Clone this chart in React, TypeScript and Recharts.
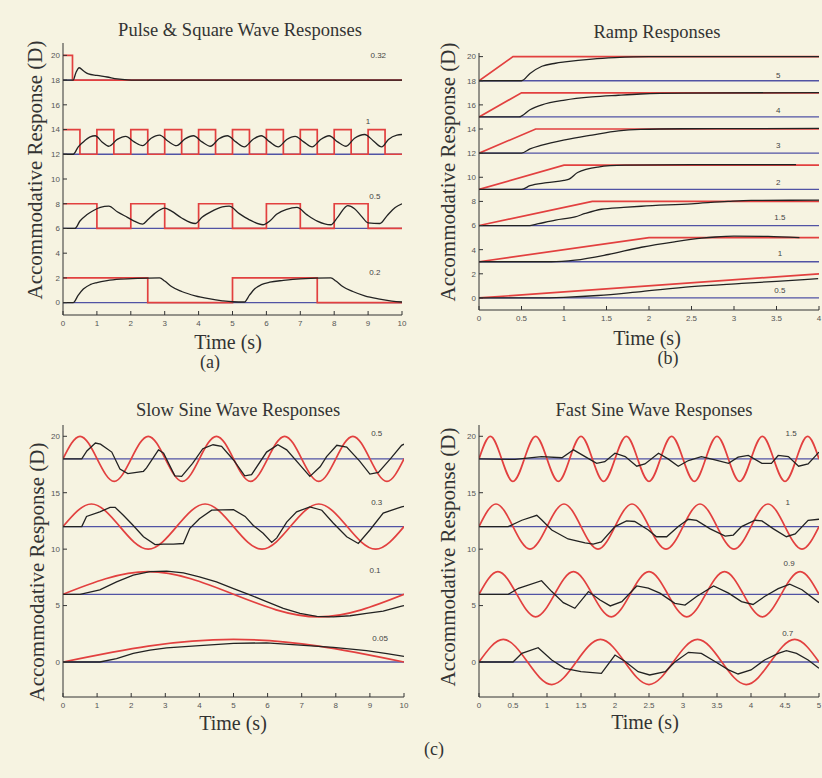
import React from 'react';
import { LineChart, Line, XAxis, YAxis, ReferenceDot } from 'recharts';

type P = [number, number];

// ---------------- Panel (a): Pulse & Square Wave ----------------
const aLabels = ['0.32', '1', '0.5', '0.2'];
const aBaselines = [18, 12, 6, 0];
const aStim032: P[] = [[0, 20], [0.28, 18], [10, 18]];
const aResp032: P[] = [[0, 18], [0.3, 18], [0.38, 18.6], [0.48, 19.0], [0.6, 18.75], [0.75, 18.5], [1.0, 18.38], [1.3, 18.25], [1.6, 18.1], [1.9, 18.02], [2.1, 18], [10, 18]];
const aStim1: P[] = [[0, 14], [0.5, 12], [1, 14], [1.5, 12], [2, 14], [2.5, 12], [3, 14], [3.5, 12], [4, 14], [4.5, 12], [5, 14], [5.5, 12], [6, 14], [6.5, 12], [7, 14], [7.5, 12], [8, 14], [8.5, 12], [9, 14], [9.5, 12], [10, 12]];
const aResp1: P[] = [[0, 12], [0.3, 12], [0.45, 12.6], [0.6, 13.0], [0.8, 13.4], [0.95, 13.5], [1.15, 13.0], [1.35, 12.65], [1.6, 13.2], [1.85, 13.45], [2.1, 13.0], [2.35, 12.7], [2.6, 13.3], [2.85, 13.55], [3.1, 13.05], [3.35, 12.7], [3.6, 13.25], [3.85, 13.5], [4.1, 13.0], [4.35, 12.65], [4.6, 13.25], [4.85, 13.5], [5.1, 13.0], [5.35, 12.6], [5.6, 13.2], [5.85, 13.5], [6.1, 13.0], [6.35, 12.6], [6.6, 13.2], [6.85, 13.45], [7.1, 13.0], [7.35, 12.6], [7.6, 13.2], [7.85, 13.5], [8.1, 13.0], [8.35, 12.65], [8.6, 13.3], [8.9, 13.6], [9.15, 13.1], [9.4, 12.6], [9.6, 13.2], [9.85, 13.55], [10, 13.6]];
const aStim05: P[] = [[0, 8], [1, 6], [2, 8], [3, 6], [4, 8], [5, 6], [6, 8], [7, 6], [8, 8], [9, 6], [10, 6]];
const aResp05: P[] = [[0, 6], [0.35, 6], [0.5, 6.6], [0.7, 7.1], [0.9, 7.45], [1.1, 7.7], [1.35, 7.8], [1.6, 7.35], [1.9, 6.9], [2.1, 6.6], [2.35, 6.35], [2.5, 6.7], [2.7, 7.2], [3.0, 7.65], [3.2, 7.4], [3.5, 6.85], [3.9, 6.4], [4.1, 6.9], [4.4, 7.4], [4.7, 7.75], [4.9, 7.8], [5.2, 7.2], [5.5, 6.7], [5.9, 6.3], [6.1, 6.6], [6.3, 7.15], [6.6, 7.55], [6.9, 7.7], [7.2, 7.1], [7.5, 6.6], [7.9, 6.3], [8.1, 6.9], [8.4, 7.85], [8.6, 7.6], [8.8, 7.0], [9.0, 6.45], [9.35, 6.4], [9.55, 7.0], [9.8, 7.7], [10, 8.0]];
const aStim02: P[] = [[0, 2], [2.5, 0], [5, 2], [7.5, 0], [10, 0]];
const aResp02: P[] = [[0, 0], [0.3, 0], [0.45, 0.6], [0.6, 1.1], [0.8, 1.45], [1.0, 1.62], [1.3, 1.78], [1.7, 1.9], [2.2, 1.97], [2.85, 2.0], [3.0, 1.75], [3.2, 1.3], [3.5, 0.9], [3.9, 0.55], [4.3, 0.32], [4.7, 0.15], [5.0, 0.07], [5.35, 0.05], [5.5, 0.6], [5.65, 1.1], [5.85, 1.45], [6.1, 1.65], [6.5, 1.8], [7.0, 1.93], [7.9, 2.0], [8.05, 1.75], [8.25, 1.3], [8.55, 0.9], [8.9, 0.55], [9.3, 0.3], [9.7, 0.12], [10, 0.05]];
const aXTicks = [0, 1, 2, 3, 4, 5, 6, 7, 8, 9, 10];
const aYTicks = [0, 2, 4, 6, 8, 10, 12, 14, 16, 18, 20];

// ---------------- Panel (b): Ramp ----------------
const bLabels = ['5', '4', '3', '2', '1.5', '1', '0.5'];
const bBaselines = [18, 15, 12, 9, 6, 3, 0];
const bStim5: P[] = [[0, 18], [0.4, 20], [4, 20]];
const bStim4: P[] = [[0, 15], [0.5, 17], [4, 17]];
const bStim3: P[] = [[0, 12], [0.667, 14], [4, 14]];
const bStim2: P[] = [[0, 9], [1, 11], [4, 11]];
const bStim15: P[] = [[0, 6], [1.333, 8], [4, 8]];
const bStim1: P[] = [[0, 3], [2, 5], [4, 5]];
const bStim05: P[] = [[0, 0], [4, 2]];
const bResp5: P[] = [[0, 18], [0.5, 18], [0.6, 18.6], [0.74, 19.2], [0.9, 19.45], [1.01, 19.56], [1.33, 19.8], [1.6, 19.92], [2.0, 20], [4, 20]];
const bResp4: P[] = [[0, 15], [0.47, 15], [0.6, 15.6], [0.74, 16.0], [1.01, 16.4], [1.33, 16.66], [1.64, 16.8], [1.9, 16.9], [2.4, 16.98], [4, 17.02]];
const bResp3: P[] = [[0, 12], [0.5, 12], [0.6, 12.35], [0.74, 12.66], [1.01, 13.1], [1.33, 13.5], [1.64, 13.85], [1.9, 13.97], [2.4, 14.02], [4, 14.05]];
const bResp2: P[] = [[0, 9], [0.5, 9], [0.6, 9.3], [0.8, 9.55], [1.0, 9.75], [1.06, 9.85], [1.16, 10.4], [1.4, 10.85], [1.71, 11.0], [2.5, 11.05], [3.73, 11.05]];
const bResp15: P[] = [[0, 6], [0.6, 6], [0.7, 6.15], [0.9, 6.45], [1.13, 6.72], [1.25, 7.0], [1.44, 7.35], [1.7, 7.5], [1.91, 7.6], [2.5, 7.8], [2.93, 8.0], [3.2, 8.08], [4, 8.1]];
const bResp1: P[] = [[0, 3], [0.85, 3], [1.13, 3.13], [1.52, 3.6], [1.91, 4.2], [2.3, 4.65], [2.62, 4.95], [2.78, 5.05], [3.0, 5.12], [3.4, 5.1], [3.77, 5.0]];
const bResp05: P[] = [[0, 0], [0.7, 0], [1.0, 0.05], [1.4, 0.2], [1.91, 0.53], [2.5, 0.93], [3.09, 1.2], [3.5, 1.38], [3.99, 1.6]];
const bXTicks = [0, 0.5, 1, 1.5, 2, 2.5, 3, 3.5, 4];
const bYTicks = [0, 2, 4, 6, 8, 10, 12, 14, 16, 18, 20];

// ---------------- Panel (c) left: Slow Sine ----------------
const cLLabels = ['0.5', '0.3', '0.1', '0.05'];
const cLBaselines = [18, 12, 6, 0];
const cLStim05: P[] = [[0, 18], [0.5, 20], [1, 18], [1.5, 16], [2, 18], [2.5, 20], [3, 18], [3.5, 16], [4, 18], [4.5, 20], [5, 18], [5.5, 16], [6, 18], [6.5, 20], [7, 18], [7.5, 16], [8, 18], [8.5, 20], [9, 18], [9.5, 16], [10, 18]];
const cLStim03: P[] = [[0, 12], [0.833, 14], [1.667, 12], [2.5, 10], [3.333, 12], [4.167, 14], [5, 12], [5.833, 10], [6.667, 12], [7.5, 14], [8.333, 12], [9.167, 10], [10, 12]];
const cLStim01: P[] = [[0, 6], [2.5, 8], [5, 6], [7.5, 4], [10, 6]];
const cLStim005: P[] = [[0, 0], [2.5, 1.41], [5, 2], [7.5, 1.41], [10, 0]];
const cLResp05: P[] = [[0, 18], [0.55, 18], [0.7, 18.7], [0.95, 19.4], [1.1, 19.3], [1.43, 18.6], [1.67, 17.1], [1.9, 16.7], [2.36, 16.9], [2.45, 17.2], [2.8, 18.8], [2.95, 18.5], [3.28, 16.5], [3.48, 16.45], [3.8, 17.6], [4.1, 18.9], [4.4, 19.25], [4.65, 19.1], [5.0, 17.9], [5.33, 16.5], [5.53, 16.6], [5.97, 18.6], [6.3, 19.25], [6.56, 18.8], [7.24, 16.45], [7.54, 17.3], [7.73, 18.2], [8.03, 19.2], [8.32, 19.05], [8.7, 17.8], [9.0, 16.65], [9.25, 16.8], [9.6, 18.0], [9.93, 19.2], [10, 19.3]];
const cLResp03: P[] = [[0, 12], [0.55, 12], [0.69, 12.9], [1.08, 13.3], [1.38, 13.7], [1.53, 13.7], [1.77, 13.0], [2.06, 12.1], [2.36, 11.1], [2.7, 10.4], [2.94, 10.45], [3.24, 10.45], [3.53, 10.5], [3.72, 11.85], [4.0, 12.7], [4.36, 13.45], [5.0, 13.5], [5.34, 12.9], [5.58, 12.1], [5.87, 11.4], [6.12, 10.6], [6.27, 11.0], [6.56, 12.4], [6.85, 13.3], [7.24, 13.75], [7.59, 13.45], [7.93, 12.3], [8.32, 11.1], [8.66, 10.5], [9.0, 11.7], [9.39, 13.2], [9.93, 13.75], [10, 13.8]];
const cLResp01: P[] = [[0, 6], [0.5, 6], [1.08, 6.4], [1.57, 7.1], [2.06, 7.7], [2.55, 8.0], [3.04, 8.05], [3.53, 7.9], [4.0, 7.55], [4.5, 7.1], [5.0, 6.5], [5.48, 5.95], [5.97, 5.35], [6.46, 4.75], [6.95, 4.3], [7.44, 4.05], [7.93, 4.0], [8.42, 4.1], [8.9, 4.3], [9.39, 4.5], [9.93, 4.95], [10, 5.0]];
const cLResp005: P[] = [[0, 0], [1.08, 0], [1.57, 0.3], [2.06, 0.77], [2.55, 1.06], [3.04, 1.25], [4.0, 1.45], [5.0, 1.65], [5.97, 1.7], [6.95, 1.5], [7.93, 1.3], [8.9, 1.0], [9.5, 0.75], [10, 0.5]];
const cLXTicks = [0, 1, 2, 3, 4, 5, 6, 7, 8, 9, 10];
const cYTicks = [0, 5, 10, 15, 20];

// ---------------- Panel (c) right: Fast Sine ----------------
const cRLabels = ['1.5', '1', '0.9', '0.7'];
const cRBaselines = [18, 12, 6, 0];
const cRStim15: P[] = [[0, 18], [0.167, 20], [0.333, 18], [0.5, 16], [0.667, 18], [0.833, 20], [1, 18], [1.167, 16], [1.333, 18], [1.5, 20], [1.667, 18], [1.833, 16], [2, 18], [2.167, 20], [2.333, 18], [2.5, 16], [2.667, 18], [2.833, 20], [3, 18], [3.167, 16], [3.333, 18], [3.5, 20], [3.667, 18], [3.833, 16], [4, 18], [4.167, 20], [4.333, 18], [4.5, 16], [4.667, 18], [4.833, 20], [5, 18]];
const cRStim1: P[] = [[0, 12], [0.25, 14], [0.5, 12], [0.75, 10], [1, 12], [1.25, 14], [1.5, 12], [1.75, 10], [2, 12], [2.25, 14], [2.5, 12], [2.75, 10], [3, 12], [3.25, 14], [3.5, 12], [3.75, 10], [4, 12], [4.25, 14], [4.5, 12], [4.75, 10], [5, 12]];
const cRStim09: P[] = [[0, 6], [0.278, 8], [0.556, 6], [0.833, 4], [1.111, 6], [1.389, 8], [1.667, 6], [1.944, 4], [2.222, 6], [2.5, 8], [2.778, 6], [3.056, 4], [3.333, 6], [3.611, 8], [3.889, 6], [4.167, 4], [4.444, 6], [4.722, 8], [5, 6]];
const cRStim07: P[] = [[0, 0], [0.357, 2], [0.714, 0], [1.071, -2], [1.429, 0], [1.786, 2], [2.143, 0], [2.5, -2], [2.857, 0], [3.214, 2], [3.571, 0], [3.929, -2], [4.286, 0], [4.643, 2], [5, 0]];
const cRResp15: P[] = [[0, 18], [0.53, 17.95], [0.92, 18.2], [1.22, 18.1], [1.39, 18.8], [1.56, 18.2], [1.73, 17.6], [1.85, 17.75], [2.0, 18.5], [2.15, 18.2], [2.32, 17.35], [2.44, 17.55], [2.64, 18.5], [2.78, 18.0], [2.93, 17.35], [3.08, 17.85], [3.27, 18.2], [3.47, 17.9], [3.67, 17.6], [3.81, 18.15], [3.96, 18.3], [4.16, 17.6], [4.3, 17.6], [4.4, 18.3], [4.55, 18.2], [4.7, 17.35], [4.84, 17.55], [5, 18.6]];
const cRResp1: P[] = [[0, 12], [0.43, 12], [0.63, 12.56], [0.85, 13.0], [0.92, 12.6], [1.07, 11.7], [1.31, 10.9], [1.56, 10.55], [1.68, 10.45], [1.8, 10.65], [2.0, 12.0], [2.17, 12.5], [2.29, 12.45], [2.49, 11.7], [2.61, 11.1], [2.76, 11.1], [2.93, 12.0], [3.08, 12.65], [3.2, 12.55], [3.4, 11.8], [3.62, 11.15], [3.74, 11.25], [3.86, 12.0], [4.06, 12.56], [4.16, 12.5], [4.33, 11.8], [4.52, 11.1], [4.65, 11.35], [4.84, 12.56], [5, 12.65]];
const cRResp09: P[] = [[0, 6], [0.43, 6], [0.58, 6.53], [0.92, 7.2], [1.07, 6.24], [1.24, 5.26], [1.41, 4.76], [1.61, 6.24], [1.78, 5.5], [1.93, 4.97], [2.1, 5.35], [2.32, 6.74], [2.49, 6.55], [2.66, 6.1], [2.88, 5.2], [3.03, 5.05], [3.2, 5.8], [3.45, 6.74], [3.67, 6.1], [3.86, 5.35], [4.03, 5.1], [4.2, 5.8], [4.4, 6.5], [4.57, 6.9], [4.75, 6.4], [5, 5.26]];
const cRResp07: P[] = [[0, 0], [0.5, 0], [0.63, 0.77], [0.87, 1.27], [1.07, 0.18], [1.26, -0.56], [1.5, -0.86], [1.8, -1.0], [2.0, 0.62], [2.15, 0.05], [2.34, -0.86], [2.51, -1.15], [2.74, -0.86], [2.88, 0], [3.08, 0.86], [3.27, 0.77], [3.47, 0.05], [3.67, -0.7], [3.81, -1.06], [4.0, -0.7], [4.2, 0.18], [4.4, 0.77], [4.52, 1.0], [4.67, 0.77], [4.84, 0.18], [5, -0.56]];
const cRXTicks = [0, 0.5, 1, 1.5, 2, 2.5, 3, 3.5, 4, 4.5, 5];

// ---------------- rendering ----------------
const pts = (a: P[]) => a.map(([t, v]) => ({ t, v }));

const RED = '#e2403f';
const BLUE = '#5153a4';
const BLACK = '#222222';
const SERIF = '"Liberation Serif", "Times New Roman", serif';
const SANS = '"Liberation Sans", Arial, sans-serif';

interface Trial {
  label: string;
  base: number;
  stim: P[];
  resp: P[];
  lx: number;
  ly: number;
}

interface PanelProps {
  left: number;
  top: number;
  width: number;
  height: number;
  margin: { top: number; left: number; right: number; bottom: number };
  xMax: number;
  xTicks: number[];
  yDomain: [number, number];
  yTicks: number[];
  trials: Trial[];
  stimCurve: 'stepAfter' | 'linear' | 'natural';
  respCurve: 'monotone' | 'linear';
}

function Panel(p: PanelProps) {
  const tickStyle = { fontSize: 8, fill: '#555', fontFamily: SANS };
  return (
    <div style={{ position: 'absolute', left: p.left, top: p.top }}>
      <LineChart width={p.width} height={p.height} margin={p.margin}>
        <XAxis
          dataKey="t"
          type="number"
          domain={[0, p.xMax]}
          ticks={p.xTicks}
          interval={0}
          allowDataOverflow
          height={20}
          tickSize={-4}
          tickMargin={9}
          stroke="#333"
          tick={tickStyle}
        />
        <XAxis
          xAxisId="top"
          orientation="top"
          type="number"
          domain={[0, p.xMax]}
          height={0}
          tick={false}
          tickLine={false}
          stroke="#333"
        />
        <YAxis
          type="number"
          domain={p.yDomain}
          ticks={p.yTicks}
          interval={0}
          allowDataOverflow
          width={30}
          tickSize={-4}
          tickMargin={7}
          stroke="#333"
          tick={tickStyle}
        />
        <YAxis
          yAxisId="r"
          orientation="right"
          type="number"
          domain={[0, 1]}
          width={0}
          tick={false}
          tickLine={false}
          stroke="#333"
        />
        {p.trials.map((tr) => (
          <Line
            key={'b' + tr.label}
            data={pts([[0, tr.base], [p.xMax, tr.base]])}
            dataKey="v"
            type="linear"
            stroke={BLUE}
            strokeWidth={1.3}
            dot={false}
            isAnimationActive={false}
          />
        ))}
        {p.trials.map((tr) => (
          <Line
            key={'s' + tr.label}
            data={pts(tr.stim)}
            dataKey="v"
            type={p.stimCurve}
            stroke={RED}
            strokeWidth={1.7}
            dot={false}
            isAnimationActive={false}
          />
        ))}
        {p.trials.map((tr) => (
          <Line
            key={'r' + tr.label}
            data={pts(tr.resp)}
            dataKey="v"
            type={p.respCurve}
            stroke={BLACK}
            strokeWidth={1.3}
            dot={false}
            isAnimationActive={false}
          />
        ))}
        {p.trials.map((tr) => (
          <ReferenceDot
            key={'l' + tr.label}
            x={tr.lx}
            y={tr.ly}
            r={0}
            fill="none"
            stroke="none"
            label={{ value: tr.label, position: 'center', fontSize: 8, fill: '#444', fontFamily: SANS }}
          />
        ))}
      </LineChart>
    </div>
  );
}

function Txt(props: { x: number; y: number; size: number; text: string; rotate?: boolean }) {
  return (
    <div
      style={{
        position: 'absolute',
        left: props.x,
        top: props.y,
        transform: `translate(-50%, -50%)${props.rotate ? ' rotate(-90deg)' : ''}`,
        fontFamily: SERIF,
        fontSize: props.size,
        color: '#333',
        whiteSpace: 'nowrap',
        lineHeight: 1,
      }}
    >
      {props.text}
    </div>
  );
}

export default function App() {
  const aTrials: Trial[] = [
    { label: aLabels[0], base: aBaselines[0], stim: aStim032, resp: aResp032, lx: 9.3, ly: 20.0 },
    { label: aLabels[1], base: aBaselines[1], stim: aStim1, resp: aResp1, lx: 9.0, ly: 14.65 },
    { label: aLabels[2], base: aBaselines[2], stim: aStim05, resp: aResp05, lx: 9.2, ly: 8.6 },
    { label: aLabels[3], base: aBaselines[3], stim: aStim02, resp: aResp02, lx: 9.2, ly: 2.5 },
  ];
  const bTrials: Trial[] = [
    { label: bLabels[0], base: bBaselines[0], stim: bStim5, resp: bResp5, lx: 3.52, ly: 18.5 },
    { label: bLabels[1], base: bBaselines[1], stim: bStim4, resp: bResp4, lx: 3.52, ly: 15.6 },
    { label: bLabels[2], base: bBaselines[2], stim: bStim3, resp: bResp3, lx: 3.52, ly: 12.7 },
    { label: bLabels[3], base: bBaselines[3], stim: bStim2, resp: bResp2, lx: 3.52, ly: 9.63 },
    { label: bLabels[4], base: bBaselines[4], stim: bStim15, resp: bResp15, lx: 3.54, ly: 6.72 },
    { label: bLabels[5], base: bBaselines[5], stim: bStim1, resp: bResp1, lx: 3.54, ly: 3.73 },
    { label: bLabels[6], base: bBaselines[6], stim: bStim05, resp: bResp05, lx: 3.54, ly: 0.66 },
  ];
  const cLTrials: Trial[] = [
    { label: cLLabels[0], base: cLBaselines[0], stim: cLStim05, resp: cLResp05, lx: 9.2, ly: 20.3 },
    { label: cLLabels[1], base: cLBaselines[1], stim: cLStim03, resp: cLResp03, lx: 9.2, ly: 14.2 },
    { label: cLLabels[2], base: cLBaselines[2], stim: cLStim01, resp: cLResp01, lx: 9.15, ly: 8.1 },
    { label: cLLabels[3], base: cLBaselines[3], stim: cLStim005, resp: cLResp005, lx: 9.3, ly: 2.1 },
  ];
  const cRTrials: Trial[] = [
    { label: cRLabels[0], base: cRBaselines[0], stim: cRStim15, resp: cRResp15, lx: 4.59, ly: 20.3 },
    { label: cRLabels[1], base: cRBaselines[1], stim: cRStim1, resp: cRResp1, lx: 4.54, ly: 14.2 },
    { label: cRLabels[2], base: cRBaselines[2], stim: cRStim09, resp: cRResp09, lx: 4.56, ly: 8.76 },
    { label: cRLabels[3], base: cRBaselines[3], stim: cRStim07, resp: cRResp07, lx: 4.54, ly: 2.57 },
  ];

  return (
    <div
      style={{
        position: 'absolute',
        left: 0,
        top: 0,
        width: 822,
        height: 778,
        background: '#f6f3e1',
        overflow: 'hidden',
      }}
    >
      <Panel
        left={0}
        top={0}
        width={411}
        height={340}
        margin={{ top: 43, left: 33, right: 9, bottom: 5 }}
        xMax={10}
        xTicks={aXTicks}
        yDomain={[-1, 21]}
        yTicks={aYTicks}
        trials={aTrials}
        stimCurve="stepAfter"
        respCurve="monotone"
      />
      <Panel
        left={411}
        top={0}
        width={411}
        height={340}
        margin={{ top: 53, left: 38, right: 3, bottom: 10 }}
        xMax={4}
        xTicks={bXTicks}
        yDomain={[-1, 20.3]}
        yTicks={bYTicks}
        trials={bTrials}
        stimCurve="linear"
        respCurve="monotone"
      />
      <Panel
        left={0}
        top={390}
        width={411}
        height={330}
        margin={{ top: 35, left: 33, right: 7, bottom: 3 }}
        xMax={10}
        xTicks={cLXTicks}
        yDomain={[-3.1, 21]}
        yTicks={cYTicks}
        trials={cLTrials}
        stimCurve="natural"
        respCurve="linear"
      />
      <Panel
        left={411}
        top={390}
        width={411}
        height={330}
        margin={{ top: 35, left: 38, right: 3, bottom: 3 }}
        xMax={5}
        xTicks={cRXTicks}
        yDomain={[-3.1, 21]}
        yTicks={cYTicks}
        trials={cRTrials}
        stimCurve="natural"
        respCurve="linear"
      />

      <Txt x={240} y={30} size={18.5} text="Pulse & Square Wave Responses" />
      <Txt x={657} y={32} size={18.5} text="Ramp Responses" />
      <Txt x={238} y={410} size={18.5} text="Slow Sine Wave Responses" />
      <Txt x={654} y={410} size={18.5} text="Fast Sine Wave Responses" />

      <Txt x={35} y={170} size={21} text="Accommodative Response (D)" rotate />
      <Txt x={448} y={172} size={21} text="Accommodative Response (D)" rotate />
      <Txt x={37} y={572} size={21} text="Accommodative Response (D)" rotate />
      <Txt x={448} y={557} size={21} text="Accommodative Response (D)" rotate />

      <Txt x={228} y={342} size={20} text="Time (s)" />
      <Txt x={647} y={338} size={20} text="Time (s)" />
      <Txt x={233} y={723} size={20} text="Time (s)" />
      <Txt x={645} y={722} size={20} text="Time (s)" />

      <Txt x={210} y={362} size={18} text="(a)" />
      <Txt x={668} y={358} size={18} text="(b)" />
      <Txt x={434} y={749} size={18} text="(c)" />
    </div>
  );
}
